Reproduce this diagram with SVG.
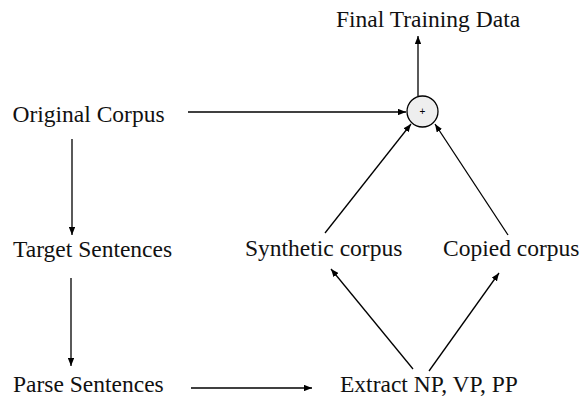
<svg xmlns="http://www.w3.org/2000/svg" width="581" height="397" viewBox="0 0 581 397">
<style>
  .lbl { font-family: "Liberation Serif", "Times New Roman", serif; font-size: 23.5px; fill: #111; }
  .edge { stroke: #000; stroke-width: 1.3; fill: none; marker-end: url(#ah); }
</style>
<defs>
  <marker id="ah" viewBox="0 0 10 8" refX="10" refY="4" markerWidth="8" markerHeight="6.4" markerUnits="userSpaceOnUse" orient="auto">
    <path d="M0,0 L10,4 L0,8 z" fill="#000"/>
  </marker>
</defs>
<rect width="581" height="397" fill="#fff"/>
<g id="connectors">
  <line class="edge" x1="188" y1="112" x2="406" y2="112"/>
  <line class="edge" x1="418" y1="96" x2="418" y2="36"/>
  <line class="edge" x1="72" y1="139" x2="72" y2="235"/>
  <line class="edge" x1="71" y1="278" x2="71" y2="366"/>
  <line class="edge" x1="191" y1="388" x2="312" y2="388"/>
  <line class="edge" x1="413" y1="369" x2="331" y2="269"/>
  <line class="edge" x1="429" y1="371" x2="499" y2="273"/>
  <line class="edge" x1="325" y1="233" x2="411" y2="124"/>
  <line class="edge" x1="508" y1="235" x2="435" y2="124"/>
</g>
<g id="final"><text class="lbl" x="336" y="27">Final Training Data</text></g>
<g id="plus">
  <circle cx="422.5" cy="111.5" r="15.5" fill="#eeeeee" stroke="#000" stroke-width="1.3"/>
  <text x="422.5" y="115" text-anchor="middle" font-family="Liberation Sans, Arial, sans-serif" font-size="10" fill="#000">+</text>
</g>
<g id="original"><text class="lbl" x="12.5" y="121.5">Original Corpus</text></g>
<g id="target"><text class="lbl" x="13" y="256.5">Target Sentences</text></g>
<g id="parse"><text class="lbl" x="13" y="392">Parse Sentences</text></g>
<g id="synthetic"><text class="lbl" x="245" y="256">Synthetic corpus</text></g>
<g id="copied"><text class="lbl" x="443" y="256">Copied corpus</text></g>
<g id="extract"><text class="lbl" x="340" y="392">Extract NP, VP, PP</text></g>
</svg>
